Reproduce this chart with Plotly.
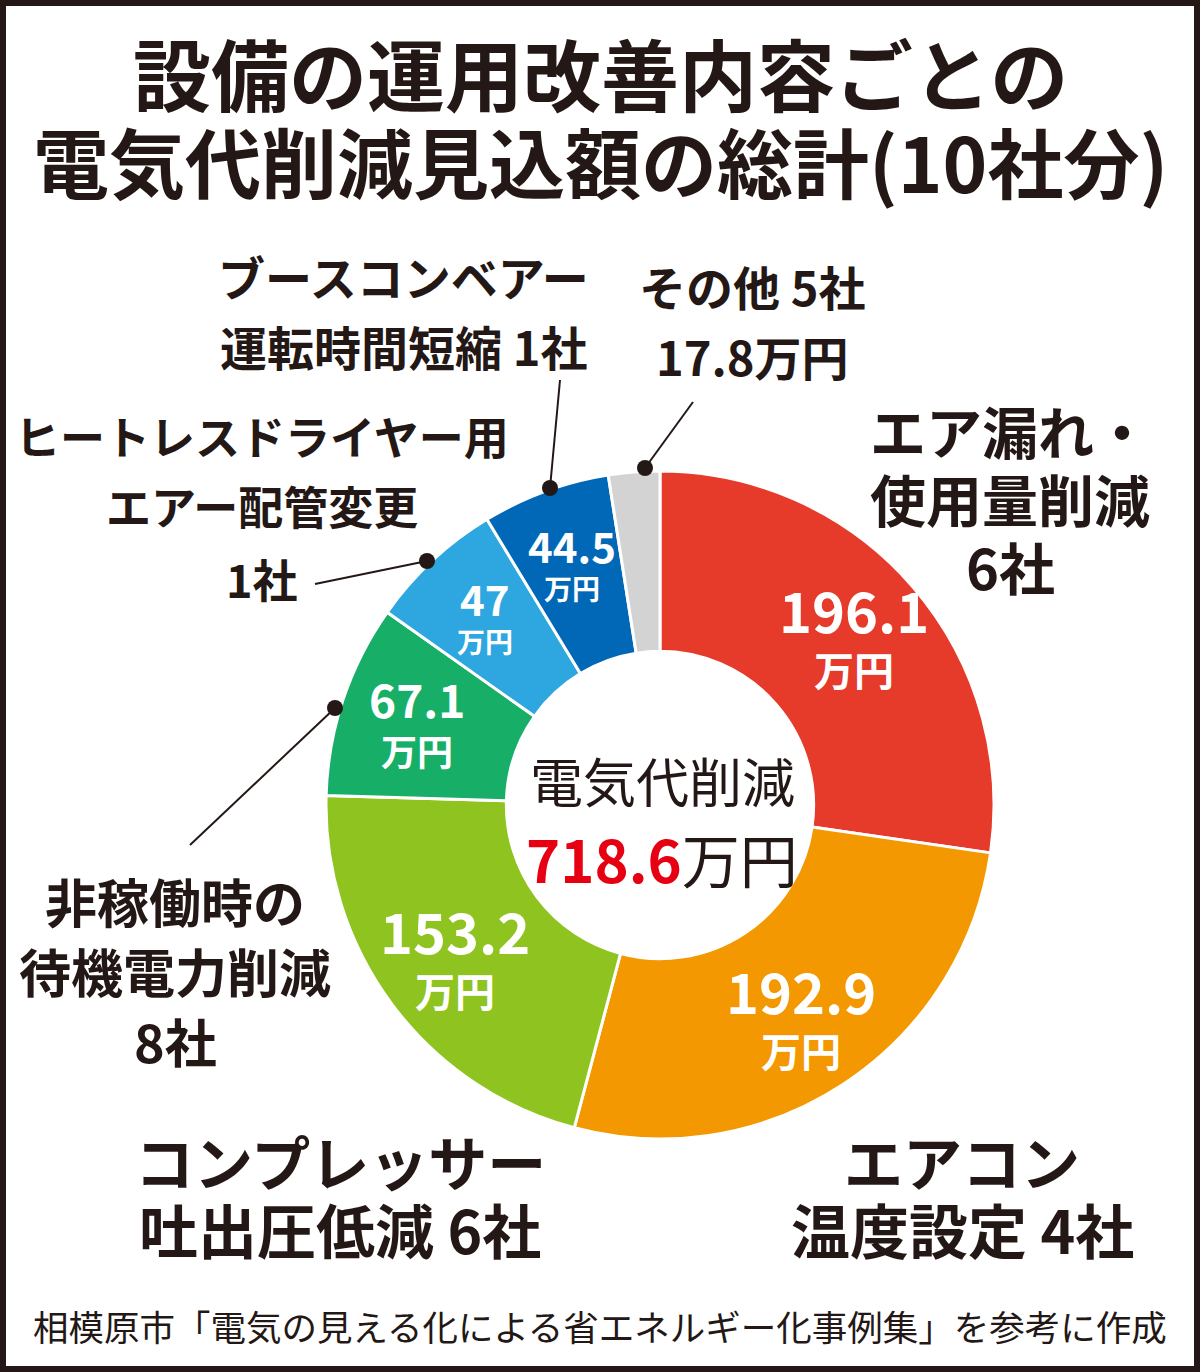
import math
import plotly.graph_objects as go

# data
categories = ["エア漏れ・使用量削減", "エアコン温度設定", "コンプレッサー吐出圧低減",
              "非稼働時の待機電力削減", "ヒートレスドライヤー用エアー配管変更",
              "ブースコンベアー運転時間短縮", "その他"]
savings = [196.1, 192.9, 153.2, 67.1, 47, 44.5, 17.8]
companies = [6, 4, 6, 8, 1, 1, 5]
colors = ["#E63A2B", "#F39800", "#8FC31F", "#17AE68", "#2EA7E0", "#0068B7", "#D3D3D3"]
value_sizes = [56, 56, 56, 46, 42, 42, 0]   # font size of the value inside each slice
unit_sizes = [40, 40, 40, 36, 28, 28, 0]

W, H = 1200, 1372
DARK = "#231815"
FONT = "Noto Sans CJK JP"
CX, CY, R_OUT = 660, 805, 334   # donut centre / radius in pixels


def px(x, y):
    # pixel -> paper coords
    return x / W, 1 - y / H


x0, y0 = px(CX - R_OUT, CY + R_OUT)
x1, y1 = px(CX + R_OUT, CY - R_OUT)

fig = go.Figure(go.Pie(
    labels=categories, values=savings, sort=False, direction="clockwise", rotation=0,
    hole=0.46, marker=dict(colors=colors, line=dict(color="white", width=3)),
    textinfo="none", domain=dict(x=[x0, x1], y=[y0, y1]),
    hoverinfo="skip", showlegend=False,
))

annos = []


def text_at(x, y, text, size, color=DARK):
    ax, ay = px(x, y)
    annos.append(dict(x=ax, y=ay, xref="paper", yref="paper", text=text, showarrow=False,
                      xanchor="center", yanchor="middle", align="center",
                      font=dict(family=FONT, size=size, color=color)))


def label(x, ys, lines, size):
    for y, t in zip(ys, lines):
        text_at(x, y, "<b>%s</b>" % t, size)


# title
text_at(600, 72, "<b>設備の運用改善内容ごとの</b>", 78)
text_at(600, 160, "<b>電気代削減見込額の総計(10社分)</b>", 76)

# values inside the slices, placed at the middle angle of each slice
total = sum(savings)
cum = 0
for v, vs, us in zip(savings, value_sizes, unit_sizes):
    mid = (cum + v / 2) / total * 2 * math.pi
    cum += v
    if vs == 0:
        continue
    r = 256
    bx = CX + r * math.sin(mid)
    by = CY - r * math.cos(mid)
    text_at(bx, by - us * 0.72, "<b>%s</b>" % v, vs, "white")
    text_at(bx, by + vs * 0.56, "<b>万円</b>", us, "white")

# category labels
label(1010, [430, 497, 565], ["エア漏れ・", "使用量削減", "%d社" % companies[0]], 56)
label(962, [1160, 1228], ["エアコン", "温度設定 %d社" % companies[1]], 59)
label(340, [1160, 1228], ["コンプレッサー", "吐出圧低減 %d社" % companies[2]], 59)
label(175, [900, 970, 1040], ["非稼働時の", "待機電力削減", "%d社" % companies[3]], 52)
label(262, [435, 505, 578], ["ヒートレスドライヤー用", "エアー配管変更", "%d社" % companies[4]], 45)
label(403, [275, 345], ["ブースコンベアー", "運転時間短縮 %d社" % companies[5]], 47)
label(752, [285, 355], ["その他 %d社" % companies[6], "%s万円" % savings[6]], 47)

# centre of the donut
text_at(662, 780, "電気代削減", 53)
text_at(662, 858, "<b><span style='color:#E60012'>%s</span></b>万円" % round(total, 1), 58)

# source
text_at(600, 1325, "相模原市「電気の見える化による省エネルギー化事例集」を参考に作成", 35.5)

# leader lines + dots
leaders = [((645, 468), (693, 402)), ((550, 488), (560, 380)),
           ((427, 561), (315, 584)), ((335, 708), (190, 845))]
shapes = []
for (dx, dy), (ex, ey) in leaders:
    a = px(dx, dy)
    b = px(ex, ey)
    shapes.append(dict(type="line", xref="paper", yref="paper", x0=a[0], y0=a[1],
                       x1=b[0], y1=b[1], line=dict(color=DARK, width=2)))
    c0 = px(dx - 8, dy + 8)
    c1 = px(dx + 8, dy - 8)
    shapes.append(dict(type="circle", xref="paper", yref="paper", x0=c0[0], y0=c0[1],
                       x1=c1[0], y1=c1[1], fillcolor=DARK, line=dict(width=0)))

# frame
shapes.append(dict(type="rect", xref="paper", yref="paper", x0=0, y0=0, x1=1, y1=1,
                   line=dict(color=DARK, width=12)))

fig.update_layout(width=W, height=H, margin=dict(l=0, r=0, t=0, b=0),
                  paper_bgcolor="white", plot_bgcolor="white",
                  annotations=annos, shapes=shapes)

fig.write_html("out.html", config={"displayModeBar": False},
               post_script="document.body.style.margin='0';")
